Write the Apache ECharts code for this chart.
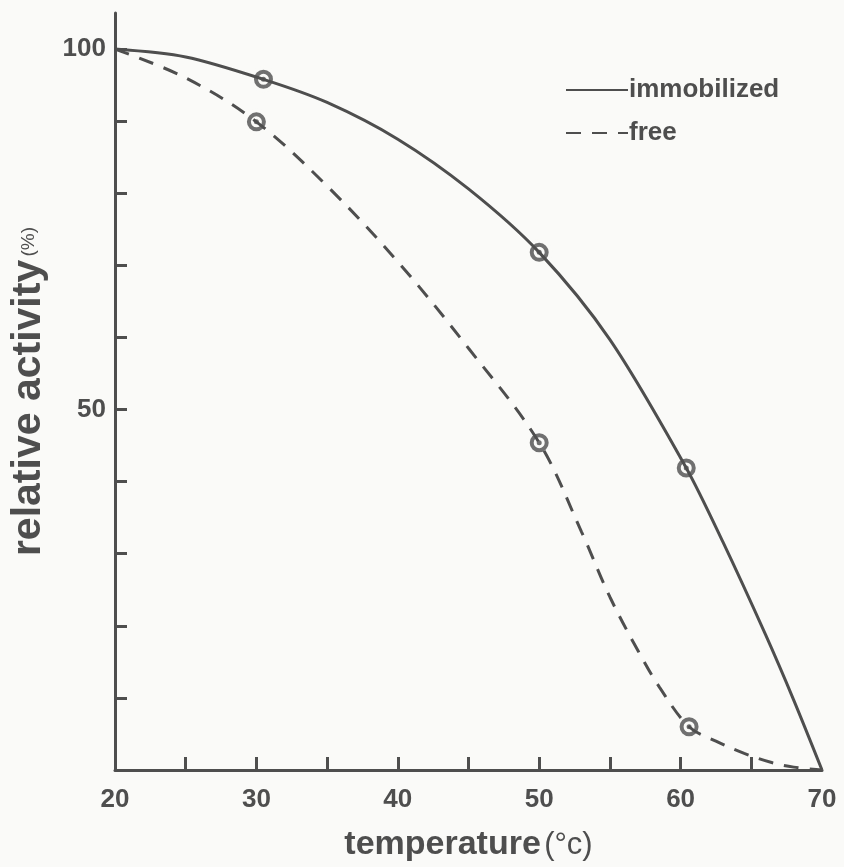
<!DOCTYPE html>
<html>
<head>
<meta charset="utf-8">
<script src="https://cdn.jsdelivr.net/npm/echarts@6/dist/echarts.min.js"></script>
<style>html,body{margin:0;padding:0;background:#fafaf8}#c{width:844px;height:867px}</style>
</head>
<body>
<div id="c"></div>
<script>
// temperature (°C) vs relative activity (%)
var immobilizedCurve = [[20,100],[25,98.9],[30.5,95.8],[35,92.6],[40,87.5],[45,80.6],[50,71.8],[55,59.7],[60.4,41.9],[63,31.6],[66,18.8],[68,9.7],[70,0]];
var freeCurve = [[20,100],[25,96],[30,89.9],[35,81],[40,70.5],[45,58.5],[50,45.4],[53,33],[55,24],[57,16.5],[58.5,11.5],[60.6,6],[62.5,4],[64.5,2.3],[66.5,1],[68,0.4],[70,0]];
var immobilizedPoints = [[30.5,95.8],[50,71.8],[60.4,41.9]];
var freePoints = [[30,89.9],[50,45.4],[60.6,6]];
var xTickValues = [25,30,35,40,45,50,55,60,65];
var xLabelValues = [20,30,40,50,60,70];
var yTickValues = [10,20,30,40,50,60,70,80,90,100];
var yLabelValues = [50,100];
var seriesNames = ['immobilized','free'];

var ink = '#4e4e4e';
var bg = '#fafaf8';
var font = 'Liberation Sans';
var allPoints = immobilizedPoints.concat(freePoints);

var chart = echarts.init(document.getElementById('c'), null, {renderer:'canvas'});
chart.setOption({
  backgroundColor: bg,
  animation: false,
  grid: {left:113, right:22, top:13, bottom:97},
  legend: {
    orient:'vertical', left:560, top:72, itemGap:17, itemWidth:62, itemHeight:14,
    data: seriesNames,
    itemStyle:{color:'transparent', borderColor:'transparent', borderWidth:0},
    textStyle:{color:ink, fontFamily:font, fontSize:26, fontWeight:'bold', padding:[0,0,0,-4]}
  },
  xAxis: {
    type:'value', min:20, max:70,
    name:'{a|temperature} {b|(°c)}', nameLocation:'middle', nameGap:58,
    nameTextStyle:{color:ink, fontFamily:font, rich:{
      a:{fontSize:34, fontWeight:'bold', color:ink, fontFamily:font},
      b:{fontSize:31, color:ink, fontFamily:font}
    }},
    axisLine:{lineStyle:{color:ink, width:3}},
    axisTick:{inside:true, length:13, lineStyle:{color:ink, width:3}, customValues:xTickValues},
    axisLabel:{color:ink, fontFamily:font, fontSize:26, fontWeight:'bold', margin:17, customValues:xLabelValues},
    splitLine:{show:false}
  },
  yAxis: {
    type:'value', min:0, max:105,
    name:'{a|relative activity} {b|(%)}', nameLocation:'middle', nameGap:66, nameRotate:90,
    nameTextStyle:{color:ink, fontFamily:font, rich:{
      a:{fontSize:41, fontWeight:'bold', color:ink, fontFamily:font},
      b:{fontSize:19, color:ink, fontFamily:font}
    }},
    axisLine:{lineStyle:{color:ink, width:3}},
    axisTick:{inside:true, length:12, lineStyle:{color:ink, width:3}, customValues:yTickValues},
    axisLabel:{color:ink, fontFamily:font, fontSize:26, fontWeight:'bold', margin:9, customValues:yLabelValues},
    splitLine:{show:false}
  },
  series: [
    {name:seriesNames[0], type:'line', data:immobilizedCurve, smooth:0.3, symbol:'none',
     lineStyle:{color:ink, width:3}, itemStyle:{color:ink}},
    {name:seriesNames[1], type:'line', data:freeCurve, smooth:0.35, symbol:'none',
     lineStyle:{color:ink, width:3, type:[15,11]}, itemStyle:{color:ink}},
    {type:'scatter', data:allPoints, symbolSize:26, itemStyle:{color:bg}, silent:true},
    {type:'scatter', data:allPoints, symbolSize:15, itemStyle:{color:bg, borderColor:ink, borderWidth:4}, silent:true},
    {type:'scatter', data:allPoints, symbolSize:5, itemStyle:{color:ink}, silent:true}
  ]
});
</script>
</body>
</html>
